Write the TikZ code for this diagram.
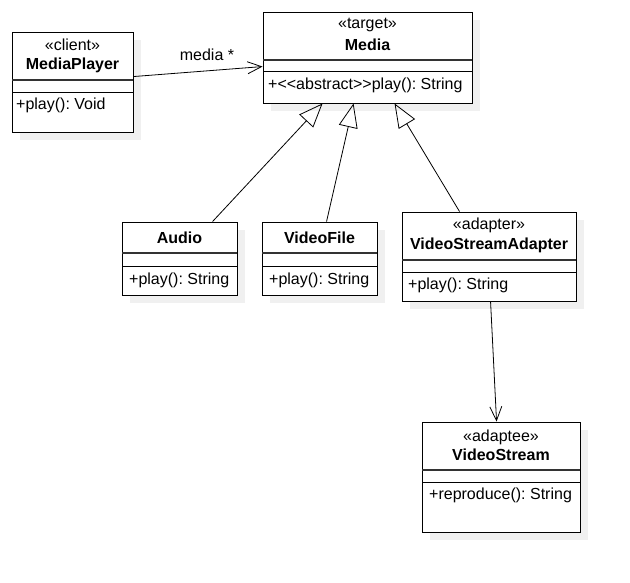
\documentclass[tikz,border=0pt]{standalone}
\usepackage{fontspec}
\setmainfont{Liberation Sans}[Ligatures=TeXOff]
\usetikzlibrary{arrows.meta,shadows,calc}
\frenchspacing
\begin{document}
\begin{tikzpicture}[x=1pt,y=-1pt,
  cls/.style={draw=black,line width=0.9pt,fill=white,inner sep=0pt,
    general shadow={shadow xshift=8pt,shadow yshift=-8pt,fill=black!6}},
  sep/.style={line width=0.9pt},
  hsep/.style={line width=1.4pt,black!80},
  txt/.style={inner sep=0pt,font=\fontsize{16pt}{19pt}\selectfont},
  ttl/.style={txt,font=\fontsize{16pt}{19pt}\selectfont\bfseries},
  meth/.style={txt,anchor=west},
  gen/.style={line width=0.8pt,-{Triangle[open,length=24pt,width=19pt,line width=0.8pt]}},
  assoc/.style={line width=0.8pt,-{Straight Barb[length=14pt,width=12pt,line width=0.8pt]}}
]
\useasboundingbox (0,0) rectangle (630,582);

% MediaPlayer
\node[cls,minimum width=121pt,minimum height=100pt] (mp) at (72.5,82) {};
\draw[hsep] (12,80) -- (133,80);
\draw[sep] (12,92) -- (133,92);
\node[txt] (mps) at (72.5,45) {«client»};
\node[ttl] (mpn) at (72.5,65) {MediaPlayer};
\node[meth] (mpm) at (16,105) {+play(): Void};

% Media
\node[cls,minimum width=209pt,minimum height=91pt] (media) at (367.5,57.5) {};
\draw[hsep] (263,60) -- (472,60);
\draw[sep] (263,71) -- (472,71);
\node[txt] (mes) at (367.5,25) {«target»};
\node[ttl] (men) at (367.5,45) {Media};
\node[meth] (mem) at (268,85) {+<<abstract>>play(): String};

% Audio
\node[cls,minimum width=115pt,minimum height=73pt] (au) at (179.5,258.5) {};
\draw[hsep] (122,253) -- (237,253);
\draw[sep] (122,266) -- (237,266);
\node[ttl] (aun) at (179.5,238) {Audio};
\node[meth] (aum) at (129,280) {+play(): String};

% VideoFile
\node[cls,minimum width=115pt,minimum height=73pt] (vf) at (319.5,258.5) {};
\draw[hsep] (262,253) -- (377,253);
\draw[sep] (262,266) -- (377,266);
\node[ttl] (vfn) at (319.5,238) {VideoFile};
\node[meth] (vfm) at (269,280) {+play(): String};

% VideoStreamAdapter
\node[cls,minimum width=174pt,minimum height=89pt] (vsa) at (489,256.5) {};
\draw[hsep] (402,260) -- (576,260);
\draw[sep] (402,272) -- (576,272);
\node[txt] (vsas) at (489,225) {«adapter»};
\node[ttl] (vsan) at (489,245) {VideoStreamAdapter};
\node[meth] (vsam) at (408,285) {+play(): String};

% VideoStream
\node[cls,minimum width=158pt,minimum height=110pt] (vs) at (501,477) {};
\draw[hsep] (422,470) -- (580,470);
\draw[sep] (422,482) -- (580,482);
\node[txt] (vss) at (501,437) {«adaptee»};
\node[ttl] (vsn) at (501,455) {VideoStream};
\node[meth] (vsm) at (429,495) {+reproduce(): String};

% connectors
\draw[assoc] ([yshift=-45pt]mp.north east) -- ([yshift=-55pt]media.north west);
\node[txt] (lbl) at (207,55) {media *};
\draw[gen] ([xshift=91pt]au.north west) -- ([xshift=60pt]media.south west);
\draw[gen] ([xshift=65pt]vf.north west) -- ([xshift=91pt]media.south west);
\draw[gen] ([xshift=58pt]vsa.north west) -- ([xshift=132pt]media.south west);
\draw[assoc] ([xshift=89pt]vsa.south west) -- ([xshift=75pt]vs.north west);
\end{tikzpicture}
\end{document}
